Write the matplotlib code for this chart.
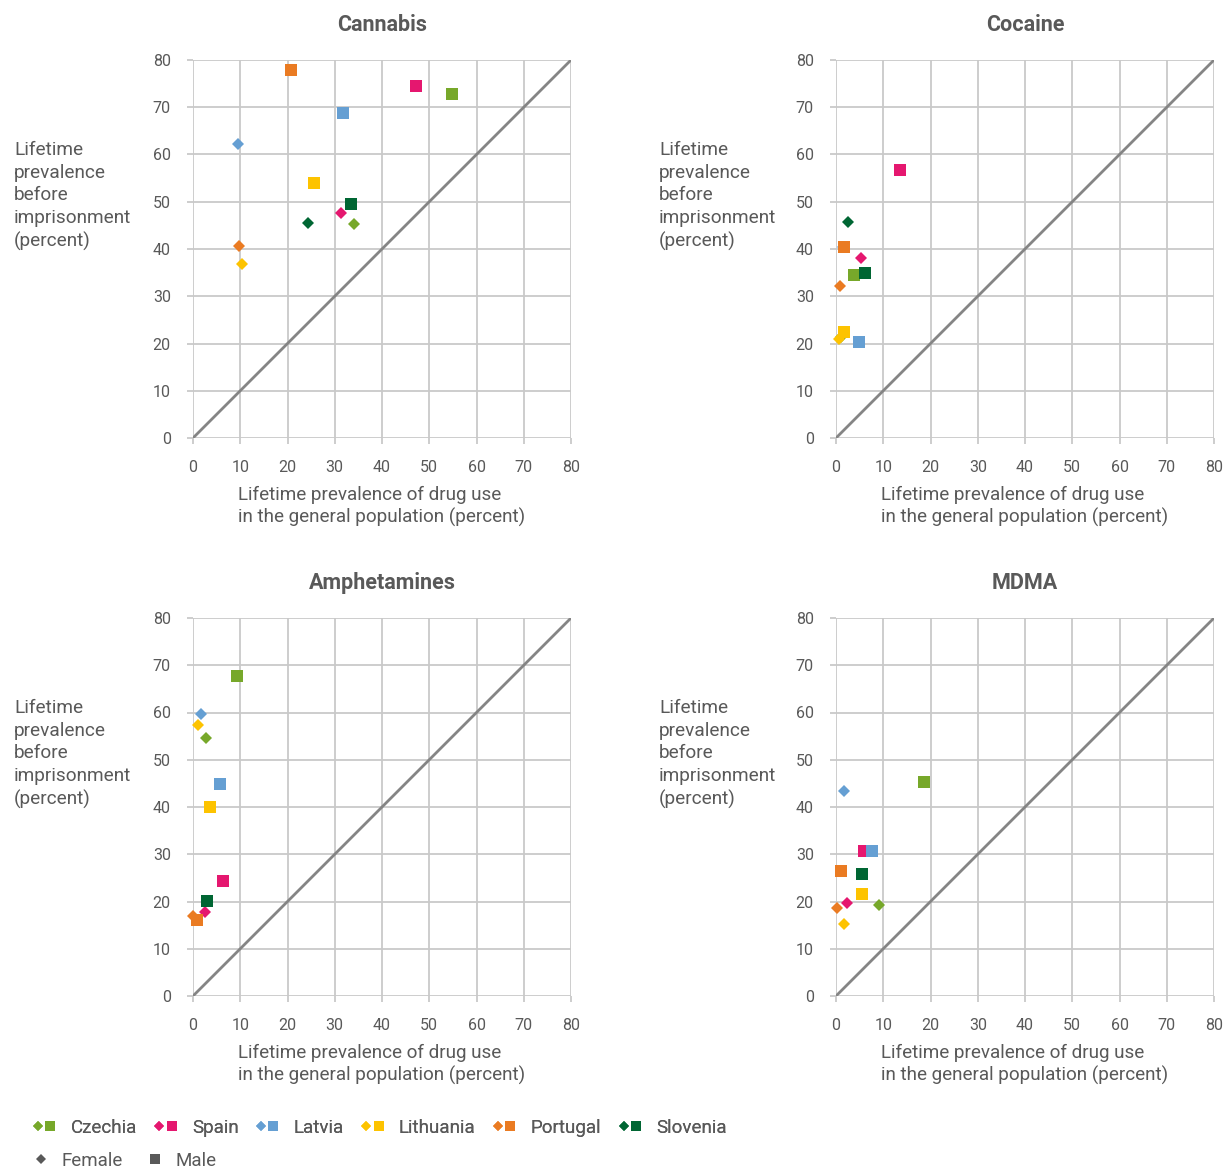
import numpy as np
import matplotlib
matplotlib.use("Agg")
import matplotlib.pyplot as plt
from matplotlib.lines import Line2D
from matplotlib.legend_handler import HandlerTuple

plt.rcParams['font.family'] = ['Roboto', 'DejaVu Sans']

countries = ['Czechia', 'Spain', 'Latvia', 'Lithuania', 'Portugal', 'Slovenia']
colors = ['#77a82a', '#e5176f', '#659fd3', '#fdc300', '#ea7b22', '#006633']
drugs = ['Cannabis', 'Cocaine', 'Amphetamines', 'MDMA']
nan = np.nan

# general population (x) and prison (y) lifetime prevalence, order as countries
female_x = {
    'Cannabis':     [34.1, 31.4, 9.5, 10.4, 9.7, 24.4],
    'Cocaine':      [1.1, 5.3, 1.4, 0.7, 0.8, 2.6],
    'Amphetamines': [2.8, 2.6, 1.6, 1.1, 0.1, nan],
    'MDMA':         [9.2, 2.4, 1.7, 1.7, 0.2, nan],
}
female_y = {
    'Cannabis':     [45.2, 47.6, 62.2, 36.9, 40.6, 45.5],
    'Cocaine':      [21.3, 38.1, 40.4, 20.9, 32.2, 45.7],
    'Amphetamines': [54.5, 17.8, 59.6, 57.4, 16.9, nan],
    'MDMA':         [19.3, 19.6, 43.4, 15.3, 18.7, nan],
}
male_x = {
    'Cannabis':     [54.9, 47.2, 31.8, 25.6, 20.8, 33.5],
    'Cocaine':      [3.9, 13.5, 4.8, 1.6, 1.6, 6.1],
    'Amphetamines': [9.3, 6.3, 5.7, 3.6, 0.85, 3.0],
    'MDMA':         [18.7, 5.9, 7.7, 5.4, 1.0, 5.4],
}
male_y = {
    'Cannabis':     [72.7, 74.4, 68.7, 53.9, 77.8, 49.5],
    'Cocaine':      [34.5, 56.7, 20.3, 22.5, 40.4, 34.9],
    'Amphetamines': [67.7, 24.4, 44.8, 39.9, 16.0, 20.2],
    'MDMA':         [45.2, 30.6, 30.6, 21.5, 26.4, 25.8],
}

ticks = np.arange(0, 81, 10)
txt = '#595959'
grid_c = '#c9c9c9'

W, H = 1227, 1170
fig = plt.figure(figsize=(W / 100, H / 100), dpi=100)

# axes boxes in pixels: left, top, right, bottom
boxes = [(193, 60, 571, 438), (836, 60, 1214, 438),
         (193, 618, 571, 996), (836, 618, 1214, 996)]

for drug, (l, t, r, b) in zip(drugs, boxes):
    ax = fig.add_axes([l / W, 1 - b / H, (r - l) / W, (b - t) / H])
    ax.set_xlim(0, 80)
    ax.set_ylim(0, 80)
    ax.set_xticks(ticks)
    ax.set_yticks(ticks)
    ax.grid(True, color=grid_c, lw=1.3)
    ax.set_axisbelow(True)
    for s in ax.spines.values():
        s.set_visible(False)
    ax.tick_params(length=4, width=1.3, color=grid_c, labelcolor=txt,
                   labelsize=11.5)
    ax.tick_params(axis='x', pad=12)
    ax.tick_params(axis='y', pad=12)
    ax.plot([0, 80], [0, 80], color='#858585', lw=2, zorder=2)

    for i, c in enumerate(colors):
        ax.plot(female_x[drug][i], female_y[drug][i], 'D', color=c,
                ms=6, mew=0, zorder=3, clip_on=False)
        ax.plot(male_x[drug][i], male_y[drug][i], 's', color=c,
                ms=8, mew=0, zorder=3, clip_on=False)

    ax.set_title(drug, fontsize=15.5, fontweight='bold', color=txt, pad=21)
    ax.set_xlabel('Lifetime prevalence of drug use\nin the general population (percent)',
                  fontsize=13.6, color=txt, labelpad=8, linespacing=1.2,
                  multialignment='left')
    ax.text(14 / W if l < 300 else 659 / W, 1 - 196 / H if t < 300 else 1 - 754 / H,
            'Lifetime\nprevalence\nbefore\nimprisonment\n(percent)',
            transform=fig.transFigure, ha='left', va='center',
            fontsize=13.7, color=txt, linespacing=1.33)

# legend
handles = [(Line2D([], [], ls='', marker='D', ms=5, mew=0, color=c),
            Line2D([], [], ls='', marker='s', ms=7, mew=0, color=c)) for c in colors]
leg1 = fig.legend(handles, countries, ncol=6, loc='center left',
                  bbox_to_anchor=(33 / W, 1 - 1128 / H), frameon=False,
                  handler_map={tuple: HandlerTuple(ndivide=None, pad=0.1)},
                  handlelength=1.2, handletextpad=0.8, columnspacing=0.93,
                  fontsize=13.5, labelcolor=txt, borderaxespad=0, borderpad=0)
sex_handles = [Line2D([], [], ls='', marker='D', ms=5, mew=0, color=txt),
               Line2D([], [], ls='', marker='s', ms=7, mew=0, color=txt)]
leg2 = fig.legend(sex_handles, ['Female', 'Male'], ncol=2, loc='center left',
                  bbox_to_anchor=(35 / W, 1 - 1161 / H), frameon=False,
                  handlelength=0.6, handletextpad=0.8, columnspacing=1.4,
                  fontsize=13.5, labelcolor=txt, borderaxespad=0, borderpad=0)
fig.add_artist(leg1)

fig.savefig('out.png', dpi=100)
